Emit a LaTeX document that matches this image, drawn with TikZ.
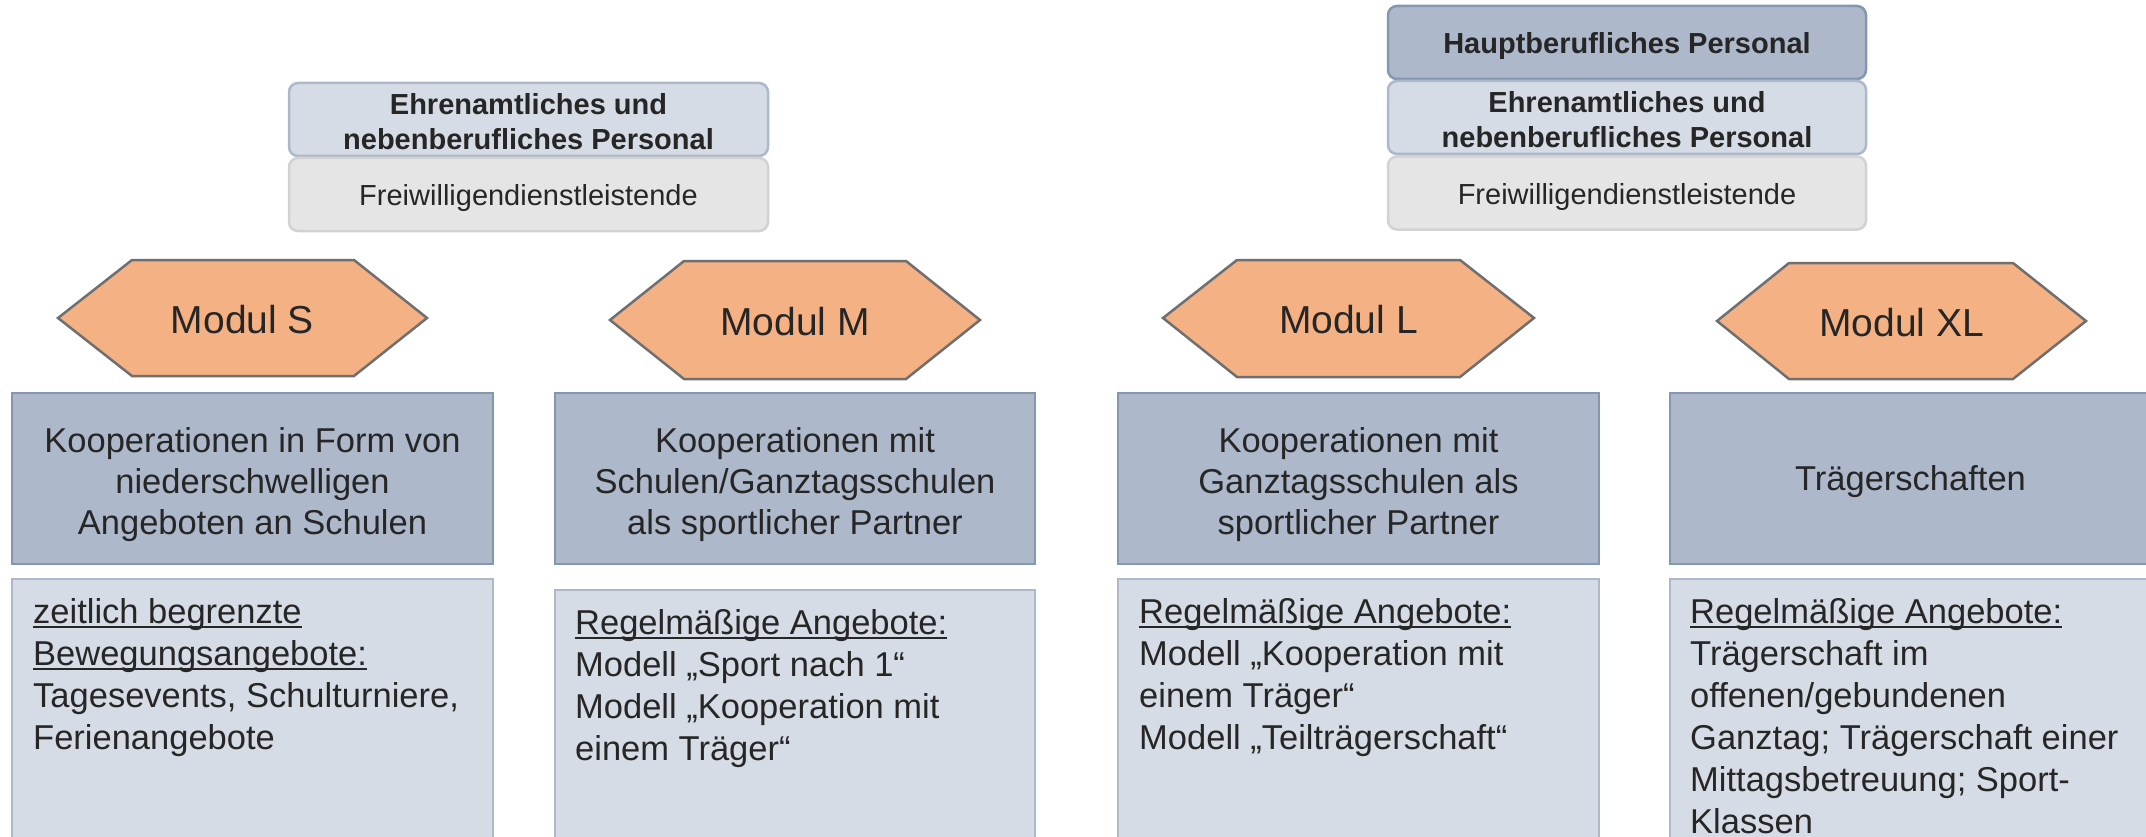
\documentclass[tikz,border=0pt]{standalone}
\usepackage{fontspec}
\setmainfont{Liberation Sans}
\newcommand\myul[1]{\setbox0\hbox{#1}\rlap{\rule[-5pt]{\wd0}{2.4pt}}\box0}
\definecolor{orangeF}{HTML}{F4B183}
\definecolor{hexD}{HTML}{6F6F6F}
\definecolor{blueF}{HTML}{ADB9CA}
\definecolor{blueD}{HTML}{8497B0}
\definecolor{lightF}{HTML}{D6DCE5}
\definecolor{lightD}{HTML}{ADB9CA}
\definecolor{grayF}{HTML}{E5E5E5}
\definecolor{grayD}{HTML}{D2D2D2}
\definecolor{txt}{HTML}{262626}
\tikzset{
  hexa/.style={fill=orangeF, draw=hexD, line width=2.5pt, line join=miter},
  hextext/.style={text=txt, inner sep=0pt, font=\fontsize{39}{47}\selectfont},
  bluebox/.style={rectangle, fill=blueF, draw=blueD, line width=2.5pt, minimum height=171pt},
  bluetext/.style={inner sep=0pt, text=txt, align=center, font=\fontsize{34.5}{41}\selectfont},
  lightbox/.style={rectangle, fill=lightF, draw=lightD, line width=2.5pt},
  lighttext/.style={anchor=north west, inner sep=0pt, text=txt, align=left, font=\fontsize{34.5}{42}\selectfont},
  persbase/.style={rectangle, rounded corners=9pt, line width=2.5pt, minimum height=73pt},
  perstext/.style={inner sep=0pt, text=txt, align=center, font=\fontsize{29}{35}\selectfont},
  haupt/.style={persbase, fill=blueF, draw=blueD, minimum width=478pt},
  ehren/.style={persbase, fill=lightF, draw=lightD},
  freiw/.style={persbase, fill=grayF, draw=grayD},
}
\begin{document}
\begin{tikzpicture}[x=1pt,y=-1pt]
\clip (0,0) rectangle (2146,837);
\fill[white] (0,0) rectangle (2146,837);

% personnel stacks, left
\node[ehren, minimum width=479pt] (ehrenL) at (528.5,119.5) {};
\node[perstext] (ehrenLt) at (528.5,121.5) {\bfseries Ehrenamtliches und\\\bfseries nebenberufliches Personal};
\node[freiw, minimum width=479pt] (freiwL) at (528.5,194.5) {};
\node[perstext] (freiwLt) at (528.5,198) {Freiwilligendienstleistende};
% personnel stacks, right
\node[haupt] (hauptR) at (1627,42.5) {};
\node[perstext] (hauptRt) at (1627,46.5) {\bfseries Hauptberufliches Personal};
\node[ehren, minimum width=478pt] (ehrenR) at (1627,117.5) {};
\node[perstext] (ehrenRt) at (1627,120) {\bfseries Ehrenamtliches und\\\bfseries nebenberufliches Personal};
\node[freiw, minimum width=478pt] (freiwR) at (1627,193) {};
\node[perstext] (freiwRt) at (1627,197) {Freiwilligendienstleistende};

% hexagons
\draw[hexa] (58,318) -- (132,260) -- (354,260) -- (427,318) -- (354,376) -- (132,376) -- cycle;
\node[hextext] (modS) at (242.5,320) {Modul S};
\draw[hexa] (610,320) -- (684,261) -- (906,261) -- (980,320) -- (906,379) -- (684,379) -- cycle;
\node[hextext] (modM) at (795,322) {Modul M};
\draw[hexa] (1163,318) -- (1237,260) -- (1460,260) -- (1534,318) -- (1460,377) -- (1237,377) -- cycle;
\node[hextext] (modL) at (1348.5,320) {Modul L};
\draw[hexa] (1717,321) -- (1789,263) -- (2013,263) -- (2086,321) -- (2013,379) -- (1789,379) -- cycle;
\node[hextext] (modXL) at (1901.5,323) {Modul XL};

% blue boxes
\node[bluebox, minimum width=481pt] (bS) at (252.5,478.5) {};
\node[bluetext] (bSt) at (252.5,485) {Kooperationen in Form von\\niederschwelligen\\Angeboten an Schulen};
\node[bluebox, minimum width=480pt] (bM) at (795,478.5) {};
\node[bluetext] (bMt) at (795,485) {Kooperationen mit\\Schulen/Ganztagsschulen\\als sportlicher Partner};
\node[bluebox, minimum width=481pt] (bL) at (1358.5,478.5) {};
\node[bluetext] (bLt) at (1358.5,485) {Kooperationen mit\\Ganztagsschulen als\\sportlicher Partner};
\node[bluebox, minimum width=481pt] (bXL) at (1910.5,478.5) {};
\node[bluetext] (bXLt) at (1910.5,482) {Trägerschaften};

% light boxes
\node[lightbox, minimum width=481pt, minimum height=281pt] (lS) at (252.5,719.5) {};
\node[lightbox, minimum width=480pt, minimum height=270pt] (lM) at (795,725) {};
\node[lightbox, minimum width=481pt, minimum height=281pt] (lL) at (1358.5,719.5) {};
\node[lightbox, minimum width=481pt, minimum height=281pt] (lXL) at (1910.5,719.5) {};

\node[lighttext] (tS) at (33,598) {\myul{zeitlich begrenzte}\\\myul{Bewegungsangebote:}\\Tagesevents, Schulturniere,\\Ferienangebote};
\node[lighttext] (tM) at (575,609) {\myul{Regelmäßige Angebote:}\\Modell „Sport nach 1“\\Modell „Kooperation mit\\einem Träger“};
\node[lighttext] (tL) at (1139,598) {\myul{Regelmäßige Angebote:}\\Modell „Kooperation mit\\einem Träger“\\Modell „Teilträgerschaft“};
\node[lighttext] (tXL) at (1690,598) {\myul{Regelmäßige Angebote:}\\Trägerschaft im\\offenen/gebundenen\\Ganztag; Trägerschaft einer\\Mittagsbetreuung; Sport-\\Klassen};
\end{tikzpicture}
\end{document}
